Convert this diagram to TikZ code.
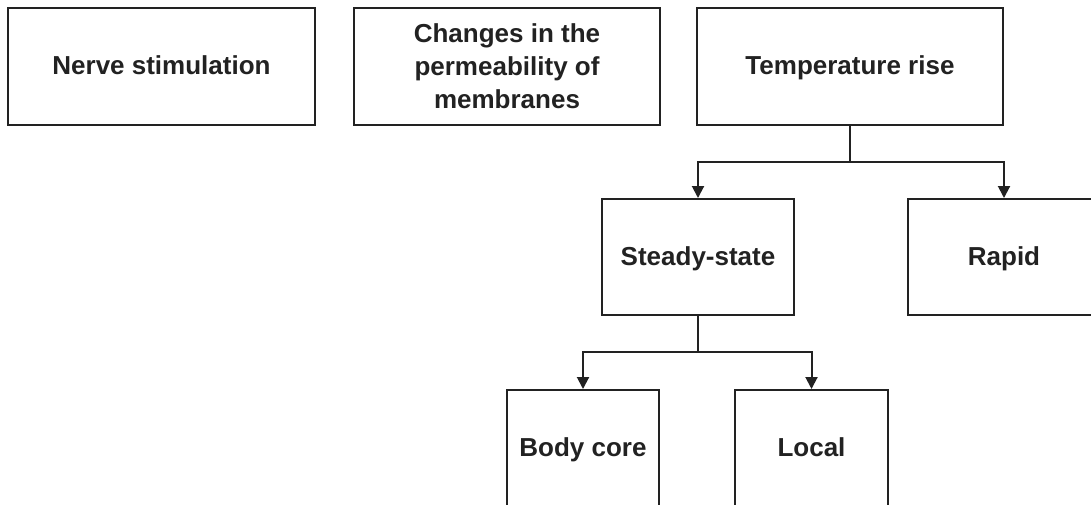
\documentclass[tikz,border=0pt]{standalone}
\usepackage{fontspec}
\setmainfont{Liberation Sans}
\usetikzlibrary{arrows.meta}
\definecolor{ink}{HTML}{222222}
\tikzset{
  box/.style={draw=ink, line width=2pt, fill=white, inner sep=0pt, align=center,
    font=\fontsize{26}{33}\selectfont\bfseries, text=ink},
  one/.style={text height=19pt, text depth=3pt},
  arr/.style={draw=ink, line width=2pt, -{Triangle[length=12pt,width=12pt]}}
}
\begin{document}
\begin{tikzpicture}[x=1pt,y=-1pt]
\useasboundingbox[fill=white] (0,0) rectangle (1091,505);
\node[box, one, minimum width=307pt, minimum height=117pt] (nerve) at (161.5,66.5) {Nerve stimulation};
\node[box, minimum width=306pt, minimum height=117pt] (changes) at (507,66.5) {Changes in the\\permeability of\\membranes};
\node[box, one, minimum width=306pt, minimum height=117pt] (temp) at (850,66.5) {Temperature rise};
\node[box, one, minimum width=192pt, minimum height=116pt] (steady) at (698,257) {Steady-state};
\node[box, one, minimum width=192pt, minimum height=116pt] (rapid) at (1004,257) {Rapid};
\node[box, one, minimum width=152pt, minimum height=116pt] (body) at (583,448) {Body core};
\node[box, one, minimum width=153pt, minimum height=116pt] (local) at (811.5,448) {Local};
\coordinate (tj) at (850,162);
\coordinate (sj) at (698,352);
\draw[draw=ink, line width=2pt] (temp.south) -- (tj);
\draw[arr] (tj) -| (steady.north);
\draw[arr] (tj) -| (rapid.north);
\draw[draw=ink, line width=2pt] (steady.south) -- (sj);
\draw[arr] (sj) -| (body.north);
\draw[arr] (sj) -| (local.north);
\end{tikzpicture}
\end{document}
